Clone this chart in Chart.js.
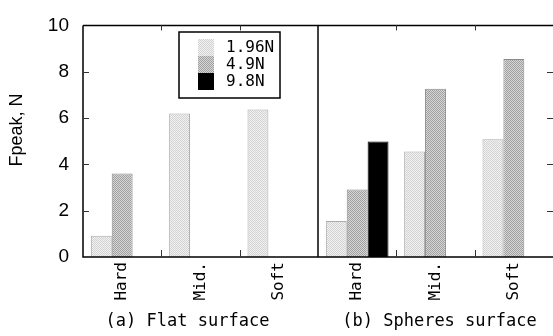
<!DOCTYPE html>
<html lang="en">
  <head>
    <meta charset="UTF-8" />
    <title>Fpeak</title>
    <script src="https://cdn.jsdelivr.net/npm/chart.js@4.4.0/dist/chart.umd.min.js"></script>
    <style>
      html, body { margin: 0; padding: 0; background: #fff; }
      #wrap { width: 553px; height: 336px; }
    </style>
  </head>
  <body>
    <div id="wrap"><canvas id="myChart"></canvas></div>
    <script>
      const labels = ["Hard", "Mid.", "Soft", "Hard", "Mid.", "Soft"];
      const f196 = [0.92, 6.2, 6.37, 1.55, 4.56, 5.08];
      const f49 = [3.6, null, null, 2.91, 7.27, 8.55];
      const f98 = [null, null, null, 4.99, null, null];
      const seriesNames = ["1.96N", "4.9N", "9.8N"];
      const panelTitles = ["(a) Flat surface", "(b) Spheres surface"];
      const yTitle = "Fpeak, N";
      const yTicks = [0, 2, 4, 6, 8, 10];

      const MONO = "'DejaVu Sans Mono', 'Liberation Mono', monospace";
      const SANS = "'Liberation Sans', Arial, sans-serif";

      // 2x2 checker patterns like the printed screen tones
      function makeChecker(a, b) {
        const c = document.createElement("canvas");
        c.width = 2;
        c.height = 2;
        const g = c.getContext("2d");
        g.fillStyle = a;
        g.fillRect(0, 0, 2, 2);
        g.fillStyle = b;
        g.fillRect(0, 0, 1, 1);
        g.fillRect(1, 1, 1, 1);
        return g.createPattern(c, "repeat");
      }

      const light = makeChecker("#f2f2f2", "#d2d2d2");
      const mid = makeChecker("#d6d6d6", "#a0a0a0");

      const framePlugin = {
        id: "frame",
        afterDraw(chart) {
          const ctx = chart.ctx;
          const a = chart.chartArea;
          const x = chart.scales.x;
          const y = chart.scales.y;
          ctx.save();
          ctx.strokeStyle = "#000";
          ctx.lineWidth = 1.5;
          ctx.beginPath();
          ctx.moveTo(a.left, a.top);
          ctx.lineTo(a.right, a.top);
          ctx.moveTo(a.left, a.top);
          ctx.lineTo(a.left, a.bottom);
          ctx.lineTo(a.right, a.bottom);
          ctx.stroke();

          // divider between the two panels
          const xDiv = (x.getPixelForValue(2) + x.getPixelForValue(3)) / 2;
          ctx.beginPath();
          ctx.moveTo(xDiv, a.top);
          ctx.lineTo(xDiv, a.bottom);
          ctx.stroke();

          // inward ticks
          ctx.lineWidth = 1;
          ctx.strokeStyle = "#333";
          ctx.beginPath();
          [0, 1, 3, 4].forEach((i) => {
            const px = Math.round((x.getPixelForValue(i) + x.getPixelForValue(i + 1)) / 2) + 0.5;
            ctx.moveTo(px, a.top);
            ctx.lineTo(px, a.top + 5);
            ctx.moveTo(px, a.bottom);
            ctx.lineTo(px, a.bottom - 7);
          });
          yTicks.slice(1, -1).forEach((v) => {
            const py = Math.round(y.getPixelForValue(v)) + 0.5;
            ctx.moveTo(a.left, py);
            ctx.lineTo(a.left + 6, py);
            ctx.moveTo(a.right, py);
            ctx.lineTo(a.right - 6, py);
          });
          ctx.stroke();

          // y axis title
          ctx.fillStyle = "#000";
          ctx.font = "18px " + SANS;
          ctx.textAlign = "center";
          ctx.textBaseline = "middle";
          ctx.save();
          ctx.translate(17, 130);
          ctx.rotate(-Math.PI / 2);
          ctx.fillText(yTitle, 0, 0);
          ctx.restore();

          // panel titles
          ctx.font = "17px " + MONO;
          ctx.fillText(panelTitles[0], x.getPixelForValue(1) - 13, 322);
          ctx.fillText(panelTitles[1], x.getPixelForValue(4) + 4, 322);

          // legend box
          const bx = 179, by = 32, bw = 101, bh = 66;
          ctx.fillStyle = "#fff";
          ctx.fillRect(bx, by, bw, bh);
          ctx.strokeStyle = "#000";
          ctx.lineWidth = 1.5;
          ctx.strokeRect(bx, by, bw, bh);
          const fills = [light, mid, "#000"];
          ctx.font = "16px " + MONO;
          ctx.textAlign = "left";
          seriesNames.forEach((name, i) => {
            const ry = 39 + i * 17;
            ctx.fillStyle = fills[i];
            ctx.fillRect(198, ry, 16, 17);
            ctx.fillStyle = "#000";
            ctx.fillText(name, 226, ry + 9);
          });
          ctx.restore();
        },
      };

      const ctx = document.getElementById("myChart").getContext("2d");
      const myChart = new Chart(ctx, {
        type: "bar",
        data: {
          labels: labels,
          datasets: [
            {
              label: seriesNames[0],
              data: f196,
              backgroundColor: light,
              borderColor: "#aaa",
              borderWidth: 1,
            },
            {
              label: seriesNames[1],
              data: f49,
              backgroundColor: mid,
              borderColor: "#8a8a8a",
              borderWidth: 1,
            },
            {
              label: seriesNames[2],
              data: f98,
              backgroundColor: "#000",
              borderColor: "#000",
              borderWidth: 1,
            },
          ],
        },
        options: {
          responsive: true,
          maintainAspectRatio: false,
          animation: false,
          layout: { padding: { top: 21, right: 0, left: 0, bottom: 0 } },
          datasets: { bar: { barPercentage: 1, categoryPercentage: 0.8 } },
          plugins: { legend: { display: false }, tooltip: { enabled: false } },
          scales: {
            x: {
              grid: { display: false, drawTicks: false },
              border: { display: false },
              ticks: {
                color: "#000",
                font: { family: MONO, size: 16 },
                minRotation: 90,
                maxRotation: 90,
                padding: 5,
              },
              afterFit: (s) => { s.height = 79; },
            },
            y: {
              min: 0,
              max: 10,
              grid: { display: false, drawTicks: false },
              border: { display: false },
              ticks: {
                stepSize: 2,
                color: "#000",
                font: { family: SANS, size: 19 },
                padding: 14,
              },
              afterFit: (s) => { s.width = 83; },
            },
          },
        },
        plugins: [framePlugin],
      });
    </script>
  </body>
</html>
